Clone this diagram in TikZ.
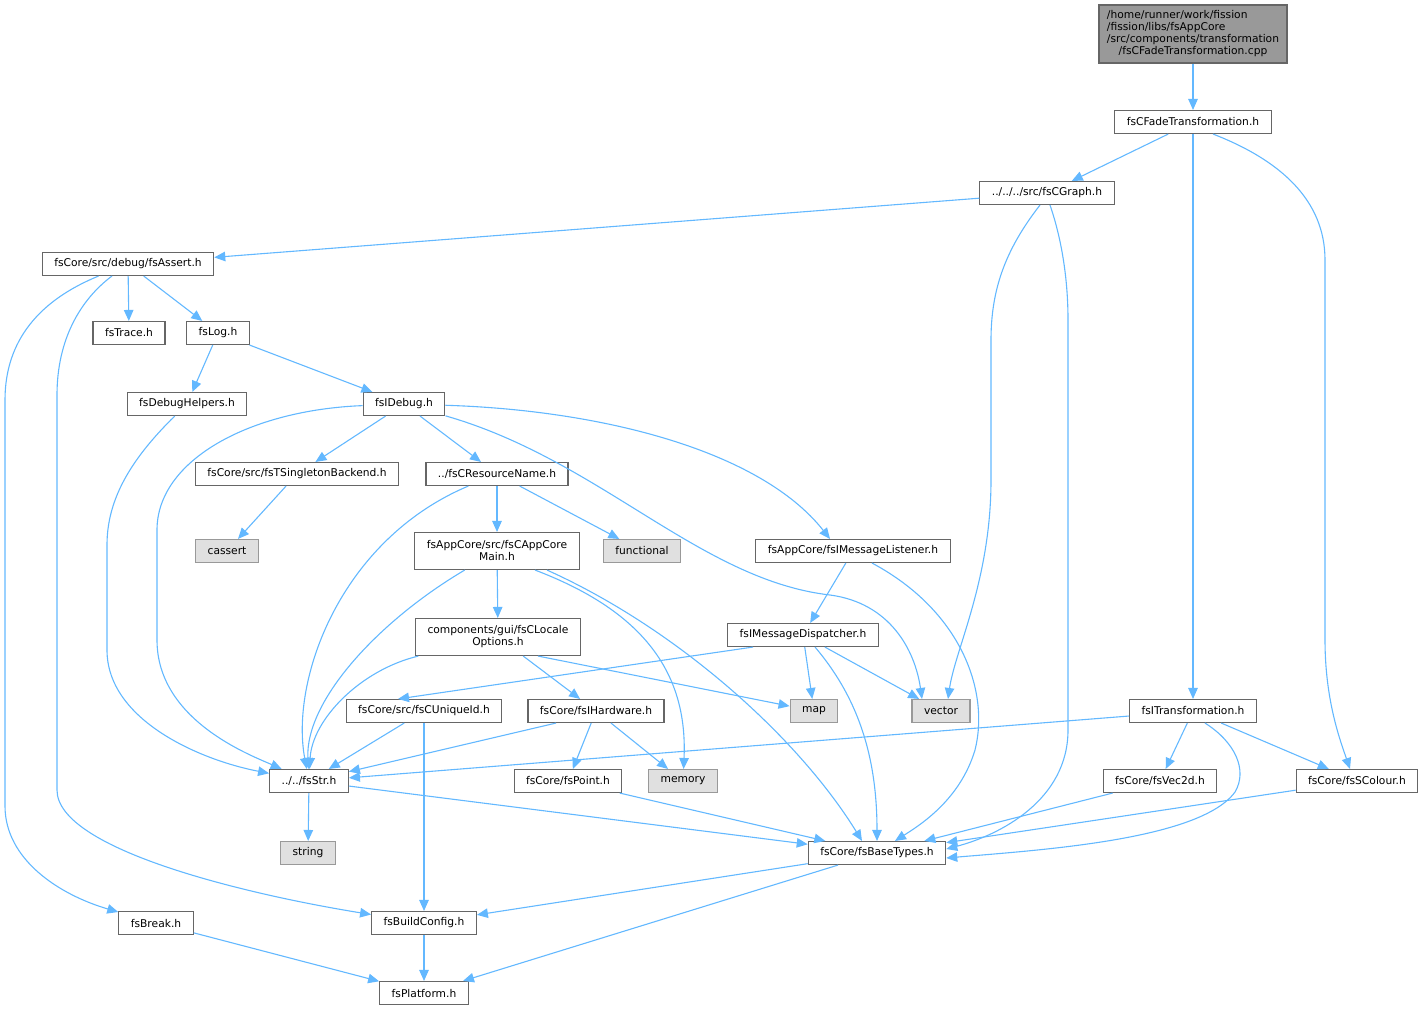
\documentclass[tikz,border=0pt]{standalone}
\usepackage{fontspec}
\setmainfont{DejaVu Sans}
\usetikzlibrary{arrows.meta}

\definecolor{edgeblue}{HTML}{63B8FF}
\definecolor{boxgray}{HTML}{666666}
\definecolor{sysgray}{HTML}{999999}
\definecolor{sysfill}{HTML}{E0E0E0}

\tikzset{
  file/.style={draw=boxgray, fill=white, line width=1.1pt, inner xsep=12pt,
    inner ysep=0pt, minimum height=23pt, font=\fontsize{10.7}{12}\selectfont},
  sysfile/.style={file, draw=sysgray, fill=sysfill},
  rootfile/.style={file, fill=sysgray, minimum height=58pt, inner xsep=8pt},
  dep/.style={draw=edgeblue, line width=1.1pt, -{Triangle[length=11pt,width=9.5pt]}}
}

\begin{document}
\begin{tikzpicture}[x=1pt, y=-1pt]

      \useasboundingbox (0,0) rectangle (1424,1012);

      \begin{scope}[every node/.style={file}]
        \node[rootfile] (cpp) at (1193,34) {\begin{tabular}{@{}l@{}}/home/runner/work/fission\\/fission/libs/fsAppCore\\/src/components/transformation\\\multicolumn{1}{@{}c@{}}{/fsCFadeTransformation.cpp}\end{tabular}};
        \node (fade)       at (1193,122) {fsCFadeTransformation.h};
        \node (graph)      at (1047,193) {../../../src/fsCGraph.h};
        \node (assert)     at (128,264)  {fsCore/src/debug/fsAssert.h};
        \node (trace)      at (129,333)  {fsTrace.h};
        \node (log)        at (218,333)  {fsLog.h};
        \node (helpers)    at (187,404)  {fsDebugHelpers.h};
        \node (idebug)     at (404,404)  {fsIDebug.h};
        \node (singleton)  at (297,474)  {fsCore/src/fsTSingletonBackend.h};
        \node (resname)    at (497,474)  {../fsCResourceName.h};
        \node[align=center, minimum height=37pt] (appmain) at (497,551) {fsAppCore/src/fsCAppCore\\Main.h};
        \node (listener)   at (853,551)  {fsAppCore/fsIMessageListener.h};
        \node[align=center, minimum height=37pt] (locale) at (498,637) {components/gui/fsCLocale\\Options.h};
        \node (dispatcher) at (803,635)  {fsIMessageDispatcher.h};
        \node (uniqueid)   at (424,711)  {fsCore/src/fsCUniqueId.h};
        \node (hardware)   at (596,711)  {fsCore/fsIHardware.h};
        \node (itrans)     at (1193,711) {fsITransformation.h};
        \node (str)        at (309,781)  {../../fsStr.h};
        \node (point)      at (568,781)  {fsCore/fsPoint.h};
        \node (vec2d)      at (1160,781) {fsCore/fsVec2d.h};
        \node (colour)     at (1357,781) {fsCore/fsSColour.h};
        \node (basetypes)  at (877,853)  {fsCore/fsBaseTypes.h};
        \node (brk)        at (156,923)  {fsBreak.h};
        \node (buildcfg)   at (424,923)  {fsBuildConfig.h};
        \node (platform)   at (424,993)  {fsPlatform.h};
      \end{scope}

      \begin{scope}[every node/.style={sysfile}]
        \node (cassert)    at (227,551)  {cassert};
        \node (functional) at (642,551)  {functional};
        \node (map)        at (814,711)  {map};
        \node (vector)     at (941,711)  {vector};
        \node (memory)     at (683,781)  {memory};
        \node (string)     at (308,853)  {string};
      \end{scope}

      \begin{scope}[every edge/.style={dep}]
        \path (cpp)        edge (fade);
        \path (fade)       edge (graph);
        \path (fade)       edge (itrans);
        \path (graph)      edge (assert);
        \path (assert)     edge (trace);
        \path (assert)     edge (log);
        \path (log)        edge (helpers);
        \path (log)        edge (idebug);
        \path (idebug)     edge (singleton);
        \path (idebug)     edge (resname);
        \path (singleton)  edge (cassert);
        \path (resname)    edge (appmain);
        \path (resname)    edge (functional);
        \path (appmain)    edge (locale);
        \path (locale)     edge (hardware);
        \path ([xshift=40pt]locale.south) edge (map);
        \path (listener)   edge (dispatcher);
        \path ([xshift=-50pt]dispatcher.south) edge ([xshift=-26pt]uniqueid.north);
        \path (dispatcher) edge (map);
        \path (dispatcher) edge (vector);
        \path (uniqueid)   edge (str);
        \path (uniqueid)   edge (buildcfg);
        \path ([xshift=-40pt]hardware.south) edge (str);
        \path (hardware)   edge (point);
        \path (hardware)   edge (memory);
        \path (itrans)     edge (str);
        \path (itrans)     edge (vec2d);
        \path (itrans)     edge (colour);
        \path (str)        edge (string);
        \path (str)        edge (basetypes);
        \path (point)      edge (basetypes);
        \path (vec2d)      edge (basetypes);
        \path (colour)     edge (basetypes);
        \path (basetypes)  edge (buildcfg);
        \path (basetypes)  edge (platform);
        \path (buildcfg)   edge (platform);
        \path (brk)        edge (platform);
      \end{scope}

      % curved connectors
      \draw[dep] (assert) .. controls (40,300) and (5,340) .. (5,400) -- (5,806)
        .. controls (5,860) and (60,895) .. (brk);
      \draw[dep] (assert) .. controls (80,300) and (57,340) .. (57,395) -- (57,790)
        .. controls (57,850) and (250,895) .. (buildcfg);
      \draw[dep] (helpers) .. controls (130,460) and (107,500) .. (107,545) -- (107,650)
        .. controls (107,720) and (200,760) .. (str);
      \draw[dep] (idebug) .. controls (250,410) and (157,460) .. (157,530) -- (157,640)
        .. controls (157,720) and (250,755) .. (str);
      \draw[dep] (resname) .. controls (340,540) and (290,680) .. (str);
      \draw[dep] (appmain) .. controls (380,620) and (305,700) .. (str);
      \draw[dep] (locale) .. controls (360,670) and (312,720) .. (str);
      \draw[dep] (idebug) .. controls (600,460) and (700,580) .. (830,595)
        .. controls (890,603) and (915,650) .. ([xshift=-19pt]vector.north);
      \draw[dep] (idebug) .. controls (600,410) and (760,450) .. ([xshift=-23pt]listener.north);
      \draw[dep] ([xshift=-7pt]graph.south) .. controls (1005,250) and (991,290) .. (991,340) -- (991,480)
        .. controls (991,580) and (955,650) .. ([xshift=7pt]vector.north);
      \draw[dep] ([xshift=3pt]graph.south) .. controls (1062,240) and (1068,280) .. (1068,320) -- (1068,730)
        .. controls (1068,800) and (1000,835) .. ([yshift=4pt]basetypes.east);
      \draw[dep] ([xshift=20pt]fade.south) .. controls (1280,160) and (1325,200) .. (1325,260) -- (1325,640)
        .. controls (1325,700) and (1340,740) .. ([xshift=-7pt]colour.north);
      \draw[dep] ([xshift=12pt]itrans.south) .. controls (1235,742) and (1248,770) .. (1235,792)
        .. controls (1200,840) and (1040,850) .. ([yshift=-5pt]basetypes.east);
      \draw[dep] ([xshift=19pt]listener.south) .. controls (960,610) and (990,690) .. (975,750)
        .. controls (960,800) and (920,825) .. ([xshift=18pt]basetypes.north);
      \draw[dep] ([xshift=38pt]appmain.south) .. controls (640,610) and (688,670) .. (memory);
      \draw[dep] ([xshift=50pt]appmain.south) .. controls (680,630) and (800,740) .. ([xshift=-15pt]basetypes.north);
      \draw[dep] ([xshift=12pt]dispatcher.south) .. controls (860,700) and (877,760) .. (basetypes);

    \end{tikzpicture}
\end{document}
